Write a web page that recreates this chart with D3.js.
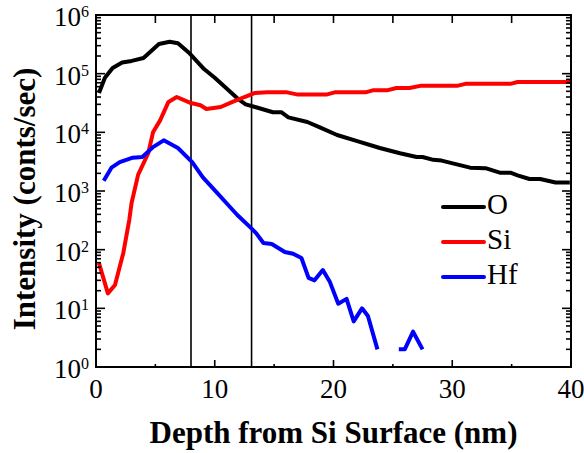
<!DOCTYPE html>
<html>
<head>
<meta charset="utf-8">
<script src="https://cdn.jsdelivr.net/npm/d3@7"></script>
<style>
  body { margin: 0; background: #fff; }
</style>
</head>
<body>
<div id="chart"></div>
<script>
// depth (nm) and intensity (counts/sec)
var depthO = [0.25, 0.75, 1.4, 2.2, 3.0, 4.0, 5.3, 6.2, 6.9, 7.9, 9.1, 10.0, 11.0, 11.9, 12.6, 13.4, 14.9, 15.6, 16.2, 17.8, 18.9, 20.3, 22.0, 23.9, 25.6, 27.0, 27.5, 28.4, 29.1, 31.5, 32.8, 34.0, 34.9, 35.5, 36.5, 37.4, 38.7, 39.9];
var valO = [4.7e4, 8.5e4, 1.25e5, 1.55e5, 1.65e5, 1.85e5, 3.2e5, 3.5e5, 3.3e5, 2.2e5, 1.2e5, 8.5e4, 5.6e4, 3.8e4, 3.0e4, 2.7e4, 2.2e4, 2.2e4, 1.8e4, 1.5e4, 1.2e4, 9.0e3, 7.1e3, 5.4e3, 4.4e3, 3.8e3, 3.8e3, 3.4e3, 3.3e3, 2.5e3, 2.45e3, 2.05e3, 2.05e3, 1.85e3, 1.6e3, 1.6e3, 1.4e3, 1.4e3];

var depthSi = [0.25, 1.0, 1.6, 2.3, 2.8, 3.0, 3.55, 4.4, 4.8, 5.4, 6.1, 6.8, 7.9, 8.8, 9.3, 10.5, 11.5, 12.5, 13.4, 14.4, 16.1, 17.0, 19.4, 20.1, 22.7, 23.3, 24.5, 25.3, 26.4, 27.3, 30.4, 31.1, 34.9, 35.5, 40];
var valSi = [59, 18, 25, 88, 320, 630, 1.9e3, 4.4e3, 1.0e4, 1.6e4, 3.3e4, 4.0e4, 3.2e4, 2.9e4, 2.5e4, 2.7e4, 3.3e4, 4.0e4, 4.7e4, 4.8e4, 4.8e4, 4.4e4, 4.4e4, 4.8e4, 4.8e4, 5.2e4, 5.2e4, 5.7e4, 5.7e4, 6.2e4, 6.2e4, 6.7e4, 6.7e4, 7.2e4, 7.2e4];

var depthHf = [0.65, 1.3, 2.0, 3.1, 3.9, 4.8, 5.7, 6.9, 8.1, 9.0, 10.2, 10.9, 11.9, 13.0, 13.5, 14.1, 14.8, 15.9, 16.6, 17.3, 17.9, 18.4, 19.1, 19.7, 20.4, 21.1, 21.7, 22.4, 22.9, 23.7, 24.6, 25.5, 26.0, 26.7, 27.5];
var valHf = [1.5e3, 2.5e3, 3.1e3, 3.7e3, 3.8e3, 5.6e3, 7.3e3, 5.4e3, 3.1e3, 1.7e3, 930, 650, 390, 240, 190, 130, 125, 91, 85, 72, 33, 30, 45, 28, 12, 14.5, 6, 10, 7.4, 2, null, 2, 2, 4, 2];

var seriesNames = ["O", "Si", "Hf"];
var seriesColors = ["#000000", "#ff0000", "#0000ff"];
var markerDepths = [8.0, 13.1];

var xTicks = [0, 10, 20, 30, 40];
var xMinor = [5, 15, 25, 35];
var yExponents = [0, 1, 2, 3, 4, 5, 6];

var width = 584;
var height = 453;

var svg = d3.select("#chart")
    .append("svg")
    .attr("width", width)
    .attr("height", height)
    .attr("font-family", "'Liberation Serif', Tinos, 'Noto Serif', 'DejaVu Serif', 'Times New Roman', Times, serif");

var x = d3.scaleLinear().domain([0, 40]).range([96, 571]);
var y = d3.scaleLog().domain([1, 1e6]).range([367, 15]);

function zip(ds, vs) {
    return ds.map(function(d, i) { return { d: d, v: vs[i] }; });
}
var series = [zip(depthO, valO), zip(depthSi, valSi), zip(depthHf, valHf)];

var line = d3.line()
    .defined(function(p) { return p.v != null; })
    .x(function(p) { return x(p.d); })
    .y(function(p) { return y(p.v); });

// vertical marker lines
svg.append("g")
    .selectAll("line")
    .data(markerDepths)
    .enter()
    .append("line")
    .attr("x1", function(d) { return x(d); })
    .attr("x2", function(d) { return x(d); })
    .attr("y1", y(1e6))
    .attr("y2", y(1))
    .attr("stroke", "#000")
    .attr("stroke-width", 1.6);

// data
svg.append("g")
    .selectAll("path")
    .data(series)
    .enter()
    .append("path")
    .attr("d", line)
    .attr("fill", "none")
    .attr("stroke", function(d, i) { return seriesColors[i]; })
    .attr("stroke-width", 4)
    .attr("stroke-linejoin", "round");

// frame
svg.append("rect")
    .attr("x", x(0))
    .attr("y", y(1e6))
    .attr("width", x(40) - x(0))
    .attr("height", y(1) - y(1e6))
    .attr("fill", "none")
    .attr("stroke", "#000")
    .attr("stroke-width", 2);

// x ticks
var ticksG = svg.append("g").attr("stroke", "#000").attr("stroke-width", 1.6);
ticksG.selectAll(".xb")
    .data(xTicks.concat(xMinor))
    .enter()
    .append("line")
    .attr("x1", function(d) { return x(d); })
    .attr("x2", function(d) { return x(d); })
    .attr("y1", y(1))
    .attr("y2", function(d) { return y(1) - (d % 10 == 0 ? 7 : 3); });
ticksG.selectAll(".xt")
    .data(xTicks.concat(xMinor))
    .enter()
    .append("line")
    .attr("x1", function(d) { return x(d); })
    .attr("x2", function(d) { return x(d); })
    .attr("y1", y(1e6))
    .attr("y2", y(1e6) + 8);

// y ticks (log, major and minor), on left and right
var yTickVals = [];
yExponents.forEach(function(e) {
    if (e < 6) {
        for (var m = 1; m <= 9; m++) yTickVals.push({ v: m * Math.pow(10, e), major: m == 1 });
    } else {
        yTickVals.push({ v: 1e6, major: true });
    }
});
ticksG.selectAll(".yl")
    .data(yTickVals)
    .enter()
    .append("line")
    .attr("x1", x(0))
    .attr("x2", function(d) { return x(0) + (d.major ? 9 : 5); })
    .attr("y1", function(d) { return y(d.v); })
    .attr("y2", function(d) { return y(d.v); });
ticksG.selectAll(".yr")
    .data(yTickVals)
    .enter()
    .append("line")
    .attr("x1", x(40))
    .attr("x2", function(d) { return x(40) - (d.major ? 9 : 5); })
    .attr("y1", function(d) { return y(d.v); })
    .attr("y2", function(d) { return y(d.v); });

// x tick labels
svg.append("g")
    .selectAll("text")
    .data(xTicks)
    .enter()
    .append("text")
    .attr("x", function(d) { return x(d); })
    .attr("y", 398)
    .attr("text-anchor", "middle")
    .attr("font-size", 27)
    .text(function(d) { return d; });

// y tick labels 10^n
var yLab = svg.append("g")
    .selectAll("text")
    .data(yExponents)
    .enter()
    .append("text")
    .attr("x", 89)
    .attr("y", function(d) { return y(Math.pow(10, d)) + 11; })
    .attr("text-anchor", "end")
    .attr("font-size", 27);
yLab.append("tspan").text("10");
yLab.append("tspan")
    .attr("dy", -9)
    .attr("font-size", 16)
    .text(function(d) { return d; });

// axis titles
svg.append("text")
    .attr("x", (x(0) + x(40)) / 2)
    .attr("y", 443)
    .attr("text-anchor", "middle")
    .attr("font-size", 31)
    .attr("font-weight", "bold")
    .text("Depth from Si Surface (nm)");

svg.append("text")
    .attr("transform", "translate(35," + (y(1e3) + 8) + ") rotate(-90)")
    .attr("text-anchor", "middle")
    .attr("font-size", 31)
    .attr("font-weight", "bold")
    .text("Intensity (conts/sec)");

// legend
var legend = svg.append("g")
    .selectAll("g")
    .data(seriesNames)
    .enter()
    .append("g")
    .attr("transform", function(d, i) { return "translate(443," + (214 + i * 35) + ")"; });
legend.append("line")
    .attr("x1", 0)
    .attr("x2", 41)
    .attr("y1", -7)
    .attr("y2", -7)
    .attr("stroke", function(d, i) { return seriesColors[i]; })
    .attr("stroke-width", 4)
    .attr("stroke-linecap", "round");
legend.append("text")
    .attr("x", 44)
    .attr("y", 0)
    .attr("font-size", 29)
    .text(function(d) { return d; });
</script>
</body>
</html>
